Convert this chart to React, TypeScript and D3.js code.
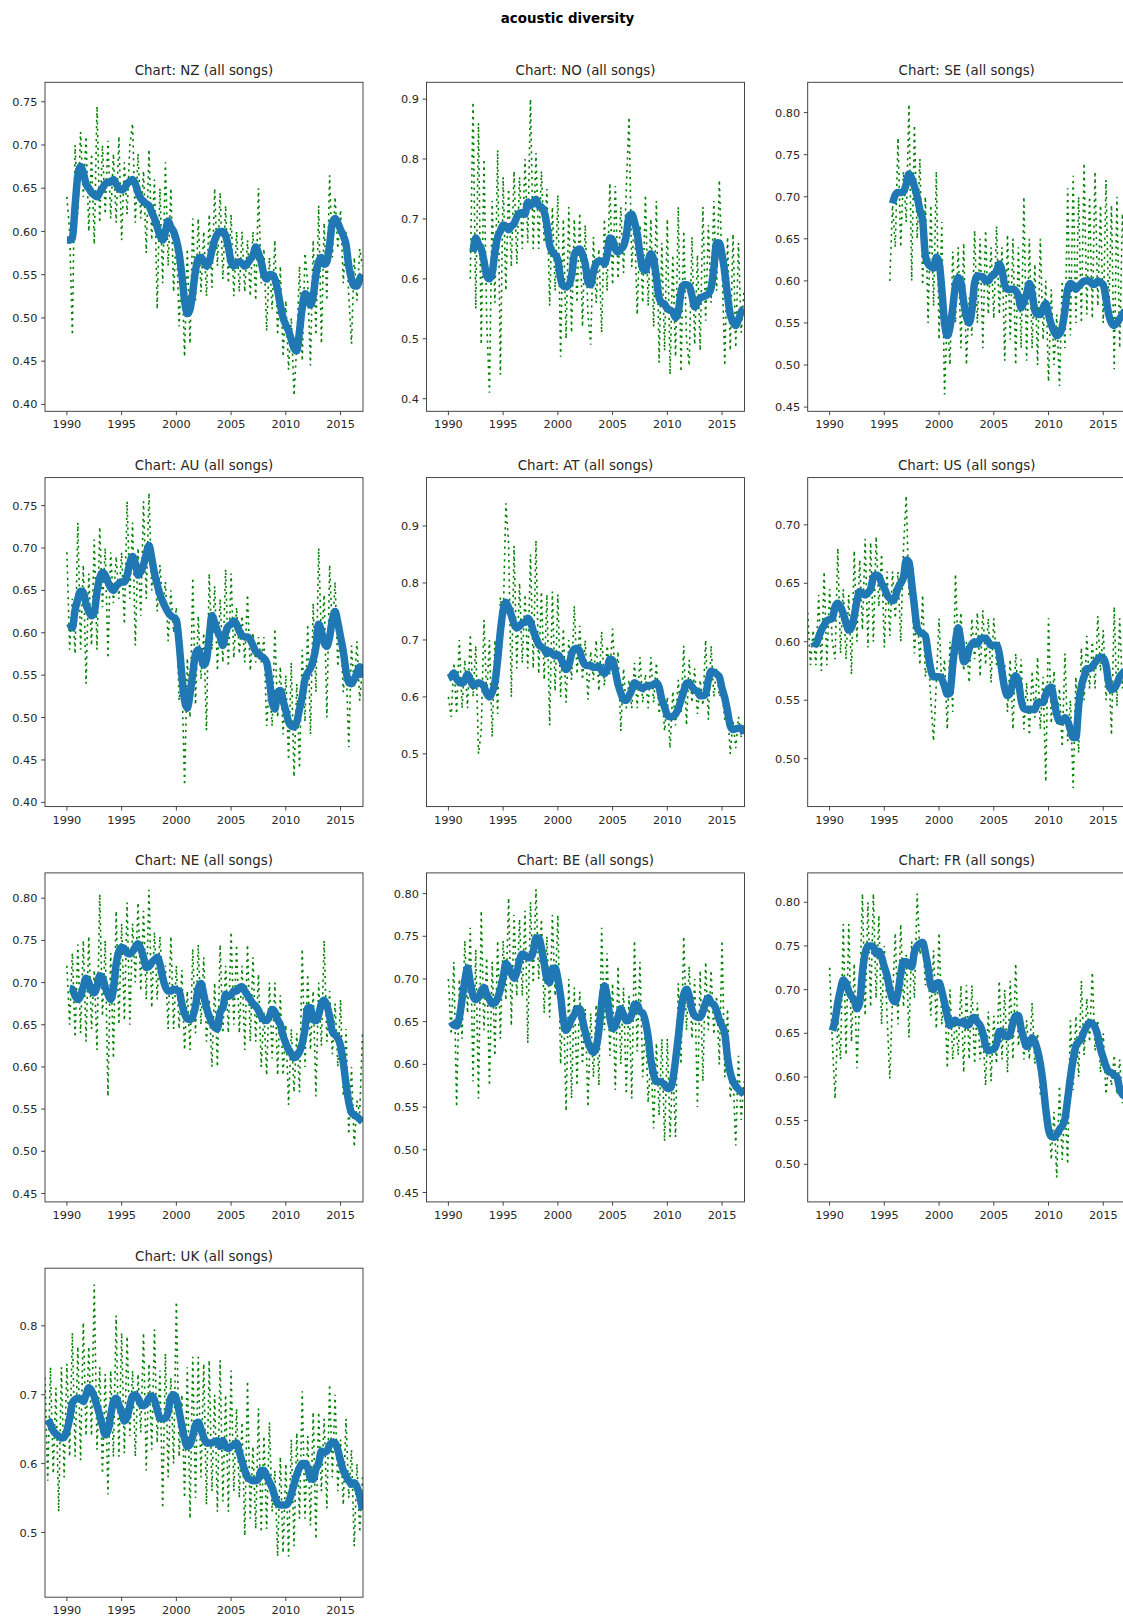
import React from "react";
import * as d3 from "d3";

// figure: "acoustic diversity", one small chart per country
// green = raw values (read quarterly from the picture), blue = rolling mean
const SUPTITLE = "acoustic diversity";
const YEAR_TICKS = [1990, 1995, 2000, 2005, 2010, 2015];
const X_DOMAIN = [1988.0, 2017.05];
const STEP = 0.25; // one value per quarter

// ---- NZ ----
const nzRawStart = 1990;
const nzRaw = [
  0.64, 0.6, 0.48, 0.7,
  0.62, 0.715, 0.64, 0.71,
  0.6, 0.69, 0.585, 0.745,
  0.61, 0.7, 0.62, 0.705,
  0.615, 0.69, 0.61, 0.71,
  0.59, 0.68, 0.62, 0.7,
  0.725, 0.61, 0.69, 0.615,
  0.67, 0.575, 0.695, 0.59,
  0.66, 0.51, 0.65, 0.54,
  0.68, 0.56, 0.65, 0.53,
  0.6, 0.49, 0.56, 0.455,
  0.58, 0.47, 0.615, 0.52,
  0.615, 0.53, 0.6, 0.525,
  0.62, 0.535, 0.65, 0.56,
  0.645, 0.545, 0.63, 0.54,
  0.62, 0.525, 0.6, 0.53,
  0.6, 0.53, 0.59, 0.525,
  0.6, 0.52, 0.65, 0.54,
  0.58, 0.485, 0.57, 0.51,
  0.59, 0.48, 0.56, 0.455,
  0.52, 0.44, 0.5, 0.41,
  0.47, 0.56, 0.45, 0.575,
  0.54, 0.445, 0.59, 0.48,
  0.63, 0.47, 0.61, 0.52,
  0.665, 0.57, 0.64, 0.58,
  0.625, 0.54, 0.6, 0.525,
  0.47, 0.57, 0.52, 0.58,
  0.56,
];
const nzAvgStart = 1990;
const nzAvg = [
  0.59, 0.59, 0.592, 0.63,
  0.665, 0.675, 0.668, 0.655,
  0.65, 0.645, 0.642, 0.64,
  0.645, 0.65, 0.655, 0.657,
  0.657, 0.66, 0.655, 0.65,
  0.648, 0.65, 0.655, 0.658,
  0.66, 0.655, 0.645, 0.638,
  0.635, 0.632, 0.63, 0.622,
  0.615, 0.605, 0.595, 0.59,
  0.6, 0.612, 0.605, 0.6,
  0.59, 0.575, 0.55, 0.52,
  0.505, 0.51, 0.53, 0.555,
  0.568, 0.57, 0.565, 0.56,
  0.565, 0.578, 0.59, 0.597,
  0.6, 0.6, 0.595, 0.582,
  0.565, 0.56, 0.563, 0.565,
  0.563, 0.56, 0.563, 0.568,
  0.572, 0.582, 0.575, 0.565,
  0.55, 0.545, 0.55, 0.55,
  0.545, 0.532, 0.515, 0.5,
  0.492, 0.485, 0.475, 0.465,
  0.462, 0.485, 0.512, 0.528,
  0.525, 0.515, 0.525, 0.55,
  0.565, 0.57, 0.562, 0.565,
  0.585, 0.61, 0.615, 0.61,
  0.602, 0.595, 0.585, 0.56,
  0.545, 0.537, 0.537, 0.545,
  0.55,
];
const nzTicks = [0.4, 0.45, 0.5, 0.55, 0.6, 0.65, 0.7, 0.75];

// ---- NO ----
const noRawStart = 1992;
const noRaw = [
  0.6, 0.895, 0.55, 0.86,
  0.49, 0.8, 0.53, 0.41,
  0.73, 0.56, 0.815, 0.44,
  0.77, 0.58, 0.75, 0.62,
  0.78, 0.625, 0.77, 0.65,
  0.8, 0.66, 0.9, 0.65,
  0.81, 0.65, 0.78, 0.66,
  0.75, 0.555, 0.72, 0.58,
  0.74, 0.47, 0.7, 0.5,
  0.72, 0.51, 0.7, 0.56,
  0.71, 0.52, 0.69, 0.54,
  0.49, 0.67, 0.56, 0.65,
  0.51, 0.7, 0.58, 0.76,
  0.59, 0.755, 0.6, 0.72,
  0.61, 0.75, 0.87, 0.62,
  0.7, 0.54, 0.69, 0.56,
  0.74, 0.555, 0.7, 0.52,
  0.73, 0.46, 0.66, 0.48,
  0.7, 0.44, 0.64, 0.47,
  0.72, 0.445, 0.68, 0.5,
  0.455, 0.67, 0.49, 0.64,
  0.48, 0.72, 0.53, 0.69,
  0.56, 0.73, 0.58, 0.765,
  0.62, 0.455, 0.67, 0.48,
  0.675, 0.485, 0.66, 0.51,
  0.58,
];
const noAvgStart = 1992.25;
const noAvg = [
  0.645, 0.668, 0.658,
  0.65, 0.63, 0.605, 0.6,
  0.61, 0.645, 0.67, 0.68,
  0.69, 0.688, 0.682, 0.688,
  0.692, 0.703, 0.71, 0.71,
  0.708, 0.728, 0.722, 0.728,
  0.733, 0.722, 0.72, 0.712,
  0.69, 0.656, 0.645, 0.64,
  0.632, 0.6, 0.588, 0.587,
  0.59, 0.605, 0.64, 0.648,
  0.65, 0.64, 0.625, 0.595,
  0.59, 0.612, 0.626, 0.63,
  0.63, 0.625, 0.64, 0.668,
  0.665, 0.65, 0.645, 0.65,
  0.655, 0.672, 0.705, 0.708,
  0.695, 0.675, 0.642, 0.617,
  0.614, 0.63, 0.642, 0.632,
  0.603, 0.568, 0.56, 0.558,
  0.55, 0.548, 0.545, 0.535,
  0.545, 0.578, 0.59, 0.59,
  0.588, 0.572, 0.553, 0.56,
  0.568, 0.57, 0.572, 0.575,
  0.585, 0.618, 0.66, 0.66,
  0.64, 0.61, 0.572, 0.54,
  0.528, 0.522, 0.532, 0.545,
  0.55,
];
const noTicks = [0.4, 0.5, 0.6, 0.7, 0.8, 0.9];

// ---- SE ----
const seRawStart = 1995.5;
const seRaw = [
  0.6, 0.69,
  0.64, 0.77, 0.64, 0.73,
  0.67, 0.81, 0.6, 0.785,
  0.65, 0.745, 0.595, 0.7,
  0.55, 0.69, 0.57, 0.73,
  0.53, 0.67, 0.465, 0.56,
  0.5, 0.635, 0.55, 0.64,
  0.52, 0.645, 0.5, 0.58,
  0.535, 0.66, 0.55, 0.65,
  0.52, 0.66, 0.56, 0.64,
  0.555, 0.665, 0.56, 0.64,
  0.505, 0.655, 0.53, 0.65,
  0.5, 0.64, 0.52, 0.7,
  0.505, 0.65, 0.52, 0.62,
  0.5, 0.65, 0.53, 0.6,
  0.48, 0.59, 0.5, 0.56,
  0.475, 0.6, 0.52, 0.71,
  0.535, 0.725, 0.55, 0.7,
  0.55, 0.74, 0.56, 0.7,
  0.555, 0.73, 0.57, 0.69,
  0.55, 0.72, 0.56, 0.69,
  0.495, 0.7, 0.52, 0.68,
  0.6,
];
const seAvgStart = 1995.75;
const seAvg = [
  0.692,
  0.702, 0.705, 0.705, 0.706,
  0.715, 0.727, 0.722, 0.712,
  0.7, 0.684, 0.672, 0.63,
  0.62, 0.617, 0.615, 0.628,
  0.622, 0.59, 0.55, 0.535,
  0.545, 0.568, 0.595, 0.604,
  0.598, 0.575, 0.557, 0.55,
  0.565, 0.598, 0.606, 0.605,
  0.605, 0.6, 0.6, 0.605,
  0.607, 0.612, 0.62, 0.612,
  0.595, 0.59, 0.59, 0.59,
  0.588, 0.582, 0.568, 0.575,
  0.585, 0.597, 0.585, 0.565,
  0.56, 0.56, 0.568, 0.573,
  0.56, 0.548, 0.54, 0.535,
  0.537, 0.545, 0.565, 0.59,
  0.597, 0.595, 0.59, 0.594,
  0.597, 0.6, 0.6, 0.6,
  0.596, 0.596, 0.6, 0.598,
  0.595, 0.579, 0.56, 0.55,
  0.547, 0.55, 0.555, 0.56,
  0.565,
];
const seTicks = [0.45, 0.5, 0.55, 0.6, 0.65, 0.7, 0.75, 0.8];

// ---- AU ----
const auRawStart = 1990;
const auRaw = [
  0.695, 0.58, 0.64, 0.575,
  0.73, 0.58, 0.68, 0.54,
  0.67, 0.585, 0.71, 0.58,
  0.725, 0.63, 0.7, 0.57,
  0.695, 0.635, 0.69, 0.64,
  0.695, 0.61, 0.755, 0.64,
  0.73, 0.585, 0.7, 0.62,
  0.755, 0.64, 0.765, 0.65,
  0.69, 0.625, 0.68, 0.63,
  0.66, 0.59, 0.65, 0.6,
  0.63, 0.52, 0.55, 0.42,
  0.57, 0.5, 0.665, 0.515,
  0.62, 0.545, 0.6, 0.485,
  0.67, 0.58, 0.655, 0.555,
  0.64, 0.565, 0.675, 0.56,
  0.67, 0.57, 0.63, 0.575,
  0.62, 0.565, 0.645, 0.555,
  0.6, 0.565, 0.595, 0.565,
  0.595, 0.49, 0.54, 0.49,
  0.605, 0.5, 0.56, 0.48,
  0.55, 0.45, 0.565, 0.43,
  0.54, 0.44, 0.58, 0.495,
  0.61, 0.48, 0.635, 0.53,
  0.7, 0.59, 0.645, 0.5,
  0.68, 0.6, 0.66, 0.56,
  0.6, 0.53, 0.565, 0.465,
  0.585, 0.535, 0.59, 0.52,
  0.56,
];
const auAvgStart = 1990.25;
const auAvg = [
  0.611, 0.606, 0.627,
  0.64, 0.649, 0.648, 0.634,
  0.625, 0.62, 0.624, 0.648,
  0.665, 0.671, 0.668, 0.66,
  0.653, 0.65, 0.655, 0.658,
  0.66, 0.66, 0.668, 0.682,
  0.69, 0.682, 0.668, 0.672,
  0.68, 0.693, 0.703, 0.688,
  0.67, 0.657, 0.645, 0.637,
  0.63, 0.624, 0.62, 0.618,
  0.615, 0.588, 0.55, 0.52,
  0.511, 0.528, 0.552, 0.575,
  0.58, 0.572, 0.562, 0.568,
  0.595, 0.62, 0.612, 0.602,
  0.595, 0.585, 0.6, 0.608,
  0.61, 0.614, 0.61, 0.602,
  0.597, 0.595, 0.595, 0.592,
  0.585, 0.578, 0.576, 0.572,
  0.57, 0.565, 0.545, 0.518,
  0.51, 0.53, 0.532, 0.52,
  0.508, 0.495, 0.49, 0.489,
  0.495, 0.51, 0.525, 0.545,
  0.553, 0.558, 0.568, 0.583,
  0.61, 0.602, 0.588, 0.584,
  0.595, 0.615, 0.625, 0.612,
  0.595, 0.578, 0.555, 0.541,
  0.54, 0.545, 0.553, 0.56,
  0.547,
];
const auTicks = [0.4, 0.45, 0.5, 0.55, 0.6, 0.65, 0.7, 0.75];

// ---- AT ----
const atRawStart = 1990;
const atRaw = [
  0.6, 0.565, 0.66, 0.57,
  0.7, 0.58, 0.665, 0.58,
  0.71, 0.6, 0.69, 0.5,
  0.54, 0.735, 0.6, 0.7,
  0.53, 0.7, 0.57, 0.775,
  0.73, 0.94, 0.87, 0.6,
  0.865, 0.65, 0.8, 0.66,
  0.78, 0.65, 0.85, 0.65,
  0.875, 0.64, 0.785, 0.63,
  0.78, 0.55, 0.785, 0.61,
  0.78, 0.6, 0.72, 0.59,
  0.7, 0.63, 0.76, 0.64,
  0.725, 0.63, 0.7, 0.595,
  0.68, 0.63, 0.7, 0.61,
  0.715, 0.62, 0.69, 0.64,
  0.72, 0.62, 0.68, 0.54,
  0.65, 0.58, 0.63, 0.58,
  0.66, 0.58, 0.67, 0.59,
  0.64, 0.58, 0.67, 0.59,
  0.66, 0.57, 0.61, 0.54,
  0.6, 0.51, 0.61, 0.55,
  0.63, 0.57, 0.69, 0.55,
  0.665, 0.59, 0.65, 0.57,
  0.63, 0.585, 0.7, 0.56,
  0.69, 0.6, 0.65, 0.6,
  0.61, 0.56, 0.58, 0.5,
  0.56, 0.51, 0.565, 0.53,
  0.55,
];
const atAvgStart = 1990;
const atAvg = [
  0.633, 0.636, 0.642, 0.632,
  0.626, 0.624, 0.63, 0.64,
  0.63, 0.62, 0.622, 0.625,
  0.623, 0.618, 0.606, 0.6,
  0.608, 0.625, 0.665, 0.715,
  0.752, 0.766, 0.757, 0.743,
  0.728, 0.721, 0.724, 0.73,
  0.731, 0.738, 0.732, 0.716,
  0.704, 0.692, 0.688, 0.684,
  0.676, 0.68, 0.676, 0.672,
  0.674, 0.668, 0.658, 0.648,
  0.655, 0.675, 0.684, 0.685,
  0.68, 0.664, 0.656, 0.655,
  0.655, 0.652, 0.652, 0.654,
  0.646, 0.641, 0.648, 0.666,
  0.665, 0.645, 0.622, 0.607,
  0.595, 0.594, 0.602, 0.612,
  0.625, 0.622, 0.618, 0.615,
  0.618, 0.62, 0.62, 0.622,
  0.625, 0.617, 0.595, 0.582,
  0.568, 0.565, 0.566, 0.57,
  0.58, 0.595, 0.61, 0.624,
  0.625, 0.618, 0.612, 0.61,
  0.602, 0.602, 0.605, 0.63,
  0.645, 0.643, 0.64, 0.635,
  0.615, 0.598, 0.575, 0.549,
  0.543, 0.544, 0.545, 0.545,
  0.535,
];
const atTicks = [0.5, 0.6, 0.7, 0.8, 0.9];

// ---- US ----
const usRawStart = 1988;
const usRaw = [
  0.625, 0.58, 0.61, 0.58,
  0.64, 0.575, 0.66, 0.58,
  0.645, 0.6, 0.585, 0.68,
  0.59, 0.645, 0.585, 0.64,
  0.572, 0.678, 0.6, 0.67,
  0.61, 0.688, 0.595, 0.685,
  0.6, 0.69, 0.63, 0.675,
  0.595, 0.66, 0.605, 0.66,
  0.62, 0.66, 0.6, 0.68,
  0.725, 0.64, 0.65, 0.59,
  0.63, 0.58, 0.64, 0.57,
  0.59, 0.55, 0.515, 0.565,
  0.62, 0.56, 0.585, 0.525,
  0.6, 0.54, 0.658, 0.59,
  0.625, 0.575, 0.6, 0.565,
  0.62, 0.585, 0.625, 0.57,
  0.627, 0.58, 0.62, 0.565,
  0.62, 0.58, 0.6, 0.56,
  0.58, 0.54, 0.585, 0.525,
  0.59, 0.55, 0.585, 0.525,
  0.565, 0.52, 0.575, 0.535,
  0.587, 0.525, 0.57, 0.48,
  0.62, 0.53, 0.575, 0.53,
  0.56, 0.51, 0.59, 0.515,
  0.55, 0.475, 0.57, 0.505,
  0.595, 0.55, 0.605, 0.56,
  0.6, 0.56, 0.622, 0.575,
  0.61, 0.55, 0.58, 0.52,
  0.63, 0.545, 0.62, 0.56,
  0.59,
];
const usAvgStart = 1988.5;
const usAvg = [
  0.6, 0.598,
  0.604, 0.61, 0.614, 0.618,
  0.619, 0.62, 0.63, 0.633,
  0.63, 0.624, 0.616, 0.61,
  0.612, 0.622, 0.635, 0.643,
  0.641, 0.64, 0.642, 0.645,
  0.655, 0.657, 0.656, 0.65,
  0.646, 0.64, 0.637, 0.635,
  0.638, 0.646, 0.65, 0.655,
  0.67, 0.668, 0.65, 0.63,
  0.612, 0.608, 0.607, 0.605,
  0.59, 0.576, 0.57, 0.57,
  0.57, 0.568, 0.562, 0.555,
  0.556, 0.58, 0.6, 0.612,
  0.6, 0.583, 0.585, 0.594,
  0.598, 0.6, 0.598, 0.602,
  0.603, 0.603, 0.6, 0.597,
  0.597, 0.597, 0.59, 0.574,
  0.56, 0.554, 0.556, 0.566,
  0.571, 0.566, 0.55, 0.543,
  0.542, 0.542, 0.542, 0.542,
  0.548, 0.548, 0.548, 0.555,
  0.56, 0.561, 0.55, 0.538,
  0.532, 0.532, 0.535, 0.532,
  0.525, 0.518, 0.518, 0.545,
  0.562, 0.57, 0.577, 0.577,
  0.579, 0.582, 0.585, 0.587,
  0.586, 0.58, 0.565, 0.559,
  0.56, 0.564, 0.57, 0.573,
  0.575,
];
const usTicks = [0.5, 0.55, 0.6, 0.65, 0.7];

// ---- NE ----
const neRawStart = 1990;
const neRaw = [
  0.72, 0.65, 0.735, 0.635,
  0.745, 0.64, 0.75, 0.63,
  0.755, 0.645, 0.715, 0.62,
  0.805, 0.66, 0.75, 0.565,
  0.735, 0.61, 0.785, 0.65,
  0.77, 0.655, 0.795, 0.65,
  0.77, 0.7, 0.795, 0.69,
  0.785, 0.68, 0.81, 0.67,
  0.76, 0.68, 0.755, 0.695,
  0.72, 0.645, 0.755, 0.645,
  0.72, 0.645, 0.715, 0.62,
  0.69, 0.62, 0.74, 0.64,
  0.745, 0.65, 0.73, 0.63,
  0.68, 0.6, 0.7, 0.6,
  0.745, 0.64, 0.72, 0.64,
  0.76, 0.65, 0.745, 0.64,
  0.72, 0.62, 0.745, 0.63,
  0.73, 0.63, 0.71, 0.6,
  0.665, 0.59, 0.7, 0.61,
  0.7, 0.59, 0.685, 0.59,
  0.65, 0.555, 0.645, 0.57,
  0.64, 0.57, 0.74, 0.6,
  0.71, 0.62, 0.69, 0.565,
  0.7, 0.625, 0.75, 0.63,
  0.69, 0.615, 0.675, 0.6,
  0.68, 0.565, 0.645, 0.52,
  0.6, 0.505, 0.56, 0.545,
  0.64,
];
const neAvgStart = 1990.25;
const neAvg = [
  0.693, 0.692, 0.684,
  0.68, 0.684, 0.695, 0.705,
  0.7, 0.69, 0.688, 0.695,
  0.708, 0.706, 0.695, 0.686,
  0.68, 0.692, 0.722, 0.737,
  0.742, 0.74, 0.735, 0.734,
  0.737, 0.742, 0.746, 0.74,
  0.73, 0.718, 0.719, 0.724,
  0.727, 0.73, 0.722, 0.706,
  0.695, 0.69, 0.69, 0.692,
  0.691, 0.69, 0.675, 0.663,
  0.657, 0.656, 0.66, 0.672,
  0.693, 0.699, 0.686, 0.67,
  0.66, 0.652, 0.647, 0.645,
  0.665, 0.67, 0.686, 0.684,
  0.685, 0.69, 0.69, 0.694,
  0.695, 0.69, 0.685, 0.68,
  0.675, 0.672, 0.667, 0.66,
  0.656, 0.655, 0.66, 0.668,
  0.665, 0.656, 0.65, 0.637,
  0.628, 0.62, 0.616, 0.611,
  0.613, 0.618, 0.628, 0.645,
  0.67, 0.67, 0.656, 0.655,
  0.662, 0.675, 0.679, 0.673,
  0.66, 0.642, 0.638, 0.634,
  0.625, 0.605, 0.58, 0.558,
  0.546, 0.543, 0.541, 0.538,
  0.535,
];
const neTicks = [0.45, 0.5, 0.55, 0.6, 0.65, 0.7, 0.75, 0.8];

// ---- BE ----
const beRawStart = 1990;
const beRaw = [
  0.7, 0.635, 0.72, 0.55,
  0.7, 0.63, 0.745, 0.66,
  0.76, 0.58, 0.735, 0.56,
  0.78, 0.64, 0.725, 0.575,
  0.72, 0.61, 0.745, 0.63,
  0.745, 0.675, 0.795, 0.645,
  0.775, 0.68, 0.77, 0.68,
  0.78, 0.625, 0.79, 0.695,
  0.805, 0.7, 0.77, 0.66,
  0.75, 0.655, 0.775, 0.68,
  0.775, 0.6, 0.68, 0.545,
  0.7, 0.56, 0.69, 0.575,
  0.685, 0.6, 0.665, 0.55,
  0.66, 0.585, 0.67, 0.575,
  0.76, 0.64, 0.73, 0.61,
  0.695, 0.57, 0.715, 0.6,
  0.69, 0.565, 0.68, 0.56,
  0.745, 0.615, 0.72, 0.585,
  0.65, 0.555, 0.61, 0.525,
  0.625, 0.54, 0.63, 0.51,
  0.63, 0.515, 0.6, 0.515,
  0.695, 0.6, 0.75, 0.64,
  0.715, 0.63, 0.7, 0.55,
  0.71, 0.58, 0.72, 0.64,
  0.71, 0.635, 0.68, 0.6,
  0.745, 0.585, 0.665, 0.56,
  0.59, 0.505, 0.61, 0.535,
  0.58,
];
const beAvgStart = 1990.25;
const beAvg = [
  0.65, 0.646, 0.645,
  0.655, 0.676, 0.698, 0.713,
  0.696, 0.68, 0.676, 0.678,
  0.686, 0.69, 0.682, 0.676,
  0.671, 0.672, 0.678, 0.688,
  0.702, 0.718, 0.714, 0.706,
  0.701, 0.708, 0.722, 0.729,
  0.728, 0.725, 0.725, 0.732,
  0.748, 0.748, 0.736, 0.718,
  0.7, 0.696, 0.712, 0.713,
  0.7, 0.68, 0.652, 0.64,
  0.645, 0.653, 0.658, 0.665,
  0.665, 0.652, 0.638, 0.626,
  0.618, 0.614, 0.62, 0.64,
  0.672, 0.692, 0.68, 0.655,
  0.642, 0.645, 0.656, 0.665,
  0.658, 0.651, 0.652, 0.658,
  0.67, 0.67, 0.662, 0.66,
  0.65, 0.632, 0.605, 0.588,
  0.58, 0.58, 0.579, 0.576,
  0.572, 0.572, 0.582, 0.605,
  0.632, 0.662, 0.682, 0.688,
  0.68, 0.664, 0.657, 0.655,
  0.655, 0.662, 0.672, 0.678,
  0.672, 0.67, 0.663, 0.652,
  0.645, 0.636, 0.608, 0.59,
  0.58, 0.575, 0.571, 0.568,
  0.565,
];
const beTicks = [0.45, 0.5, 0.55, 0.6, 0.65, 0.7, 0.75, 0.8];

// ---- FR ----
const frRawStart = 1990;
const frRaw = [
  0.725, 0.64, 0.575, 0.665,
  0.62, 0.775, 0.625, 0.775,
  0.64, 0.73, 0.61, 0.69,
  0.81, 0.67, 0.8, 0.68,
  0.81, 0.69, 0.785, 0.66,
  0.75, 0.67, 0.598, 0.69,
  0.765, 0.66, 0.775, 0.68,
  0.74, 0.645, 0.755, 0.69,
  0.81, 0.74, 0.76, 0.705,
  0.72, 0.67, 0.745, 0.655,
  0.765, 0.66, 0.7, 0.61,
  0.7, 0.62, 0.67, 0.625,
  0.705, 0.605, 0.705, 0.62,
  0.705, 0.615, 0.685, 0.62,
  0.65, 0.59, 0.675, 0.595,
  0.67, 0.615, 0.71, 0.62,
  0.7, 0.605, 0.71, 0.62,
  0.73, 0.635, 0.67, 0.62,
  0.665, 0.62, 0.685, 0.615,
  0.65, 0.58, 0.6, 0.54,
  0.56, 0.505, 0.56, 0.485,
  0.59, 0.505, 0.57, 0.5,
  0.665, 0.585, 0.67, 0.6,
  0.71, 0.625, 0.69, 0.64,
  0.72, 0.63, 0.665, 0.605,
  0.65, 0.58, 0.615, 0.59,
  0.625, 0.58, 0.62, 0.57,
  0.6,
];
const frAvgStart = 1990.25;
const frAvg = [
  0.653, 0.665, 0.685,
  0.7, 0.711, 0.707, 0.698,
  0.692, 0.688, 0.678, 0.685,
  0.72, 0.742, 0.75, 0.75,
  0.749, 0.741, 0.744, 0.737,
  0.726, 0.716, 0.7, 0.689,
  0.686, 0.697, 0.718, 0.732,
  0.732, 0.728, 0.726, 0.743,
  0.75, 0.753, 0.754, 0.742,
  0.725, 0.704, 0.7, 0.707,
  0.708, 0.698, 0.685, 0.67,
  0.659, 0.664, 0.665, 0.662,
  0.662, 0.664, 0.659, 0.66,
  0.667, 0.668, 0.663, 0.659,
  0.65, 0.636, 0.63, 0.631,
  0.632, 0.638, 0.652, 0.652,
  0.647, 0.646, 0.65, 0.662,
  0.67, 0.67, 0.655, 0.643,
  0.635, 0.638, 0.645, 0.64,
  0.63, 0.615, 0.593, 0.563,
  0.54, 0.532, 0.531, 0.534,
  0.54, 0.544, 0.552, 0.575,
  0.6, 0.62, 0.636, 0.64,
  0.644, 0.652, 0.658, 0.662,
  0.661, 0.657, 0.647, 0.632,
  0.622, 0.612, 0.606, 0.605,
  0.602, 0.6, 0.587, 0.58,
  0.578,
];
const frTicks = [0.5, 0.55, 0.6, 0.65, 0.7, 0.75, 0.8];

// ---- UK ----
const ukRawStart = 1988;
const ukRaw = [
  0.725, 0.575, 0.74, 0.585,
  0.71, 0.53, 0.74, 0.58,
  0.745, 0.61, 0.79, 0.61,
  0.77, 0.605, 0.805, 0.64,
  0.77, 0.64, 0.86, 0.62,
  0.74, 0.585, 0.73, 0.555,
  0.735, 0.61, 0.815, 0.61,
  0.79, 0.615, 0.785, 0.64,
  0.735, 0.61, 0.73, 0.645,
  0.79, 0.59, 0.745, 0.62,
  0.795, 0.63, 0.735, 0.535,
  0.76, 0.58, 0.725, 0.6,
  0.835, 0.61, 0.7, 0.55,
  0.74, 0.52, 0.755, 0.55,
  0.755, 0.58, 0.745, 0.54,
  0.75, 0.56, 0.7, 0.53,
  0.75, 0.545, 0.7, 0.53,
  0.735, 0.56, 0.68, 0.55,
  0.66, 0.495, 0.72, 0.52,
  0.625, 0.505, 0.68, 0.5,
  0.64, 0.505, 0.66, 0.53,
  0.59, 0.465, 0.61, 0.47,
  0.6, 0.465, 0.635, 0.48,
  0.645, 0.52, 0.705, 0.52,
  0.64, 0.51, 0.675, 0.49,
  0.675, 0.56, 0.665, 0.535,
  0.715, 0.58, 0.7, 0.56,
  0.635, 0.54, 0.665, 0.55,
  0.62, 0.48, 0.6, 0.5,
  0.58,
];
const ukAvgStart = 1988.25;
const ukAvg = [
  0.664, 0.657, 0.648,
  0.643, 0.64, 0.637, 0.638,
  0.648, 0.665, 0.688, 0.693,
  0.695, 0.694, 0.69, 0.7,
  0.71, 0.706, 0.697, 0.684,
  0.67, 0.655, 0.642, 0.648,
  0.67, 0.69, 0.695, 0.685,
  0.675, 0.662, 0.667, 0.684,
  0.698, 0.7, 0.695, 0.686,
  0.684, 0.688, 0.695, 0.698,
  0.692, 0.678, 0.666, 0.665,
  0.666, 0.675, 0.696, 0.7,
  0.694, 0.676, 0.655, 0.636,
  0.625, 0.628, 0.64, 0.656,
  0.66, 0.65, 0.638, 0.63,
  0.63, 0.63, 0.632, 0.633,
  0.625, 0.633, 0.625, 0.622,
  0.625, 0.627, 0.63, 0.617,
  0.603, 0.59, 0.58, 0.577,
  0.575, 0.575, 0.578, 0.59,
  0.59, 0.582, 0.573, 0.565,
  0.552, 0.542, 0.54, 0.54,
  0.54, 0.544, 0.556, 0.57,
  0.584, 0.594, 0.6, 0.6,
  0.594, 0.578, 0.577, 0.592,
  0.601, 0.618, 0.616, 0.618,
  0.627, 0.631, 0.63, 0.62,
  0.604, 0.59, 0.582, 0.575,
  0.57, 0.572, 0.566, 0.553,
  0.533,
];
const ukTicks = [0.5, 0.6, 0.7, 0.8];

const panels = [
  { code: "NZ", rawStart: nzRawStart, raw: nzRaw, avgStart: nzAvgStart, avg: nzAvg, yDomain: [0.392, 0.7725], ticks: nzTicks, fmt: ".2f" },
  { code: "NO", rawStart: noRawStart, raw: noRaw, avgStart: noAvgStart, avg: noAvg, yDomain: [0.379, 0.928], ticks: noTicks, fmt: ".1f" },
  { code: "SE", rawStart: seRawStart, raw: seRaw, avgStart: seAvgStart, avg: seAvg, yDomain: [0.445, 0.836], ticks: seTicks, fmt: ".2f" },
  { code: "AU", rawStart: auRawStart, raw: auRaw, avgStart: auAvgStart, avg: auAvg, yDomain: [0.395, 0.783], ticks: auTicks, fmt: ".2f" },
  { code: "AT", rawStart: atRawStart, raw: atRaw, avgStart: atAvgStart, avg: atAvg, yDomain: [0.4075, 0.985], ticks: atTicks, fmt: ".1f" },
  { code: "US", rawStart: usRawStart, raw: usRaw, avgStart: usAvgStart, avg: usAvg, yDomain: [0.459, 0.7404], ticks: usTicks, fmt: ".2f" },
  { code: "NE", rawStart: neRawStart, raw: neRaw, avgStart: neAvgStart, avg: neAvg, yDomain: [0.44, 0.83], ticks: neTicks, fmt: ".2f" },
  { code: "BE", rawStart: beRawStart, raw: beRaw, avgStart: beAvgStart, avg: beAvg, yDomain: [0.439, 0.8242], ticks: beTicks, fmt: ".2f" },
  { code: "FR", rawStart: frRawStart, raw: frRaw, avgStart: frAvgStart, avg: frAvg, yDomain: [0.457, 0.8336], ticks: frTicks, fmt: ".2f" },
  { code: "UK", rawStart: ukRawStart, raw: ukRaw, avgStart: ukAvgStart, avg: ukAvg, yDomain: [0.406, 0.8837], ticks: ukTicks, fmt: ".1f" },
];

// layout (px)
const W = 1123;
const H = 1619;
const AX_W = 318;
const AX_H = 329;
const COL_X = [45, 426.5, 807.7];
const ROW_Y = [82.3, 477.6, 872.9, 1268.2];
const FONT = "DejaVu Sans, Liberation Sans, sans-serif";
const TEXT = "#262626";

const toPoints = (start, values) => values.map((v, i) => [start + i * STEP, v]);

const Panel = ({ p, x0, y0 }) => {
  const x = d3.scaleLinear().domain(X_DOMAIN).range([0, AX_W]);
  const y = d3.scaleLinear().domain(p.yDomain).range([AX_H, 0]);

  const rawLine = d3.line().x((d) => x(d[0])).y((d) => y(d[1]));
  const avgLine = d3
    .line()
    .x((d) => x(d[0]))
    .y((d) => y(d[1]))
    .curve(d3.curveMonotoneX);

  const fmt = d3.format(p.fmt);
  const clipId = `clip-${p.code}`;

  return (
    <g transform={`translate(${x0},${y0})`}>
      <defs>
        <clipPath id={clipId}>
          <rect x={0} y={0} width={AX_W} height={AX_H} />
        </clipPath>
      </defs>
      <text
        x={AX_W / 2}
        y={-7.5}
        textAnchor="middle"
        fontFamily={FONT}
        fontSize={13.4}
        fill={TEXT}
      >
        {`Chart: ${p.code} (all songs)`}
      </text>
      <g clipPath={`url(#${clipId})`}>
        <path
          d={rawLine(toPoints(p.rawStart, p.raw))}
          fill="none"
          stroke="#008000"
          strokeWidth={1.6}
          strokeDasharray="2.2 4.2"
        />
        <path
          d={avgLine(toPoints(p.avgStart, p.avg))}
          fill="none"
          stroke="#1f77b4"
          strokeWidth={7.5}
          strokeLinejoin="round"
        />
      </g>
      <rect x={0} y={0} width={AX_W} height={AX_H} fill="none" stroke="#333" strokeWidth={0.9} />
      {p.ticks.map((t) => (
        <g key={t} transform={`translate(0,${y(t)})`}>
          <line x1={-3.9} x2={0} stroke="#333" strokeWidth={0.9} />
          <text
            x={-7.6}
            dy="0.36em"
            textAnchor="end"
            fontFamily={FONT}
            fontSize={11.3}
            fill={TEXT}
          >
            {fmt(t)}
          </text>
        </g>
      ))}
      {YEAR_TICKS.map((t) => (
        <g key={t} transform={`translate(${x(t)},${AX_H})`}>
          <line y1={0} y2={3.9} stroke="#333" strokeWidth={0.9} />
          <text y={17} textAnchor="middle" fontFamily={FONT} fontSize={11.3} fill={TEXT}>
            {t}
          </text>
        </g>
      ))}
    </g>
  );
};

export default function App() {
  return (
    <svg
      width={W}
      height={H}
      viewBox={`0 0 ${W} ${H}`}
      style={{ position: "absolute", left: 0, top: 0, background: "#fff" }}
    >
      <rect width={W} height={H} fill="#fff" />
      <text
        x={567.5}
        y={22.5}
        textAnchor="middle"
        fontFamily={FONT}
        fontSize={13.4}
        fontWeight="bold"
        fill="#000"
      >
        {SUPTITLE}
      </text>
      {panels.map((p, i) => (
        <Panel key={p.code} p={p} x0={COL_X[i % 3]} y0={ROW_Y[Math.floor(i / 3)]} />
      ))}
    </svg>
  );
}
